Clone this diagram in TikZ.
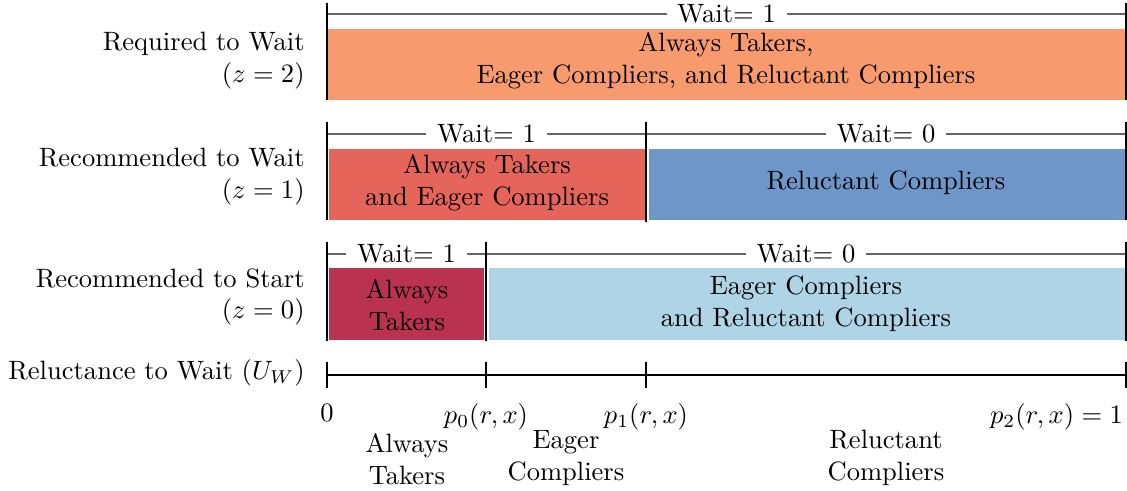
\documentclass[tikz,border=0pt]{standalone}
\usetikzlibrary{positioning}

\definecolor{reqcol}{HTML}{F79A6E}
\definecolor{eagercol}{HTML}{E5655A}
\definecolor{relcol}{HTML}{6F96C8}
\definecolor{alwayscol}{HTML}{B93250}
\definecolor{startcol}{HTML}{AED4E6}

\tikzset{
  bracket/.style={black!60, line width=0.5pt},
  divider/.style={black, line width=0.6pt},
  waitlabel/.style={fill=white, text=black, inner xsep=4pt, inner ysep=1pt},
  bartext/.style={align=center},
  rowlabel/.style={align=right, anchor=east},
  axisline/.style={line width=0.9pt},
  ticklabel/.style={anchor=north},
}

\begin{document}
\begin{tikzpicture}[x=0.01325cm, y=-0.01325cm]
\useasboundingbox (0,0) rectangle (1127,491);

% required to wait (z=2)
\fill[reqcol] (328,29) rectangle (1125,100);
\draw[bracket] (327,14) -- node[waitlabel] (w2) {Wait$=$ 1} (1126,14);
\draw[divider] (327,3) -- (327,100);
\draw[divider] (1126,3) -- (1126,100);
\node[bartext] (all) at (726,61) {Always Takers,\\Eager Compliers, and Reluctant Compliers};
\node[rowlabel] (z2) at (314,61) {Required to Wait\\$(z=2)$};

% recommended to wait (z=1)
\fill[eagercol] (329,149) rectangle (645,220);
\fill[relcol] (649,149) rectangle (1125,220);
\draw[bracket] (327,134) -- node[waitlabel] (w1a) {Wait$=$ 1} (646,134);
\draw[bracket] (646,134) -- node[waitlabel] (w1b) {Wait$=$ 0} (1126,134);
\draw[divider] (327,122) -- (327,220);
\draw[divider] (646,122) -- (646,222);
\draw[divider] (1126,122) -- (1126,220);
\node[bartext] (ateager) at (487,183) {Always Takers\\and Eager Compliers};
\node[bartext] (reluct) at (886,183) {Reluctant Compliers};
\node[rowlabel] (z1) at (314,177) {Recommended to Wait\\$(z=1)$};

% recommended to start (z=0)
\fill[alwayscol] (329,268) rectangle (484,340);
\fill[startcol] (489,268) rectangle (1125,340);
\draw[bracket] (327,254) -- node[waitlabel] (w0a) {Wait$=$ 1} (486,254);
\draw[bracket] (486,254) -- node[waitlabel] (w0b) {Wait$=$ 0} (1126,254);
\draw[divider] (327,242) -- (327,341);
\draw[divider] (486,242) -- (486,341);
\draw[divider] (1126,242) -- (1126,341);
\node[bartext] (always) at (407,305) {Always\\Takers};
\node[bartext] (eagerrel) at (806,304) {Eager Compliers\\and Reluctant Compliers};
\node[rowlabel] (z0) at (314,297) {Recommended to Start\\$(z=0)$};

% reluctance axis
\coordinate (t0) at (327,375);
\coordinate (t1) at (486,375);
\coordinate (t2) at (646,375);
\coordinate (t3) at (1126,375);
\draw[axisline] (t0) -- (t3);
\foreach \t in {t0,t1,t2,t3}
  \draw[axisline] ([yshift=0.175cm]\t) -- ([yshift=-0.175cm]\t);
\node[rowlabel] (uw) at (314,373) {Reluctance to Wait $(U_W)$};

\node[ticklabel] (l0) at (327,395) {$0$};
\node[ticklabel] (l1) at (486,394) {$p_0(r,x)$};
\node[ticklabel] (l2) at (646,394) {$p_1(r,x)$};
\node[ticklabel, anchor=north east, inner xsep=1pt] (l3) at (1126,394) {$p_2(r,x)=1$};

\node[bartext] (gat) at (407,459) {Always\\Takers};
\node[bartext] (gec) at (566,458) {Eager\\Compliers};
\node[bartext] (grc) at (886,458) {Reluctant\\Compliers};
\end{tikzpicture}
\end{document}
